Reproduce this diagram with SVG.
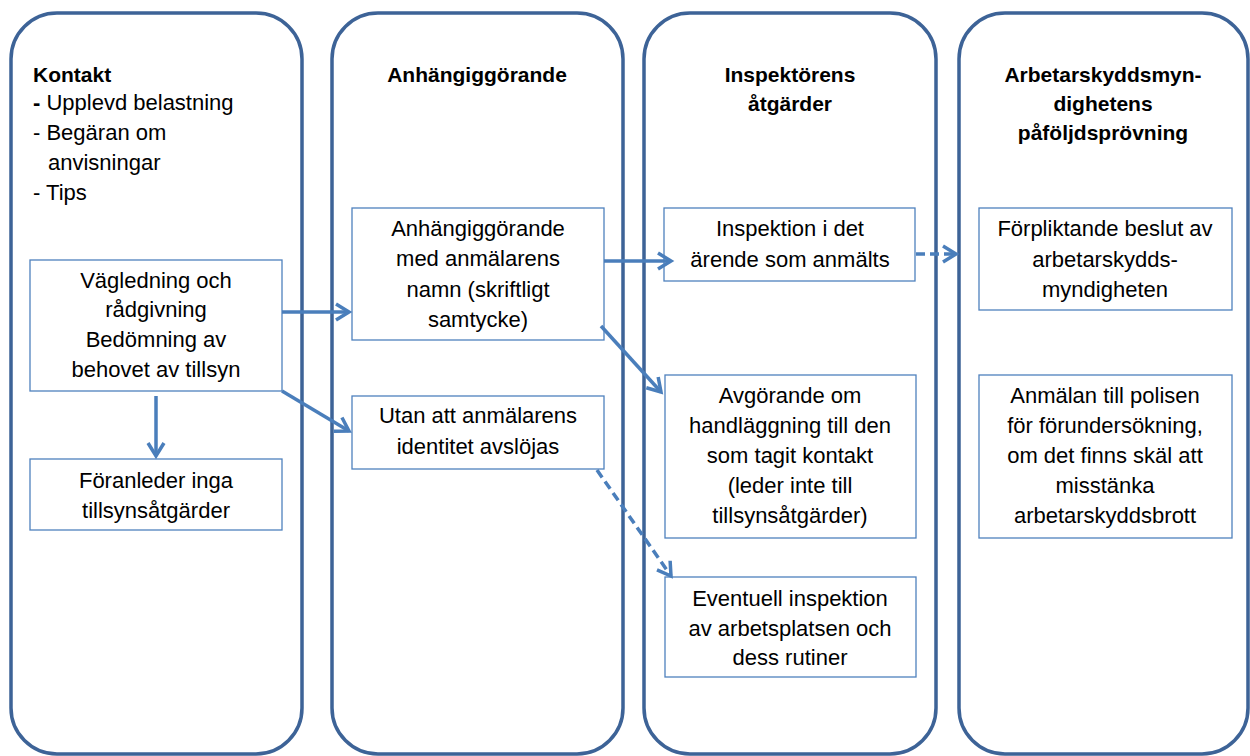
<svg xmlns="http://www.w3.org/2000/svg" width="1250" height="756" viewBox="0 0 1250 756">
<defs>
<style>
.col{fill:#fff;stroke:#3d6397;stroke-width:3.5}
.box{fill:#fff;stroke:#4f81bd;stroke-width:1.3}
text{font-family:"Liberation Sans",Arial,sans-serif;font-size:22px;fill:#000}
.c{text-anchor:middle}
.h{font-weight:bold;font-size:21px}
.arr{stroke:#4a7ebb;stroke-width:3.5;fill:none;marker-end:url(#ah)}
.dash{stroke-dasharray:9 5}
</style>
<marker id="ah" markerUnits="userSpaceOnUse" markerWidth="30" markerHeight="30" refX="0" refY="0" viewBox="-20 -15 30 30" orient="auto" overflow="visible">
<path d="M-13,-8 L0,0 L-13,8" fill="none" stroke="#4a7ebb" stroke-width="3.5" stroke-linecap="butt" stroke-linejoin="miter"/>
</marker>
</defs>
<rect width="1250" height="756" fill="#fff"/>

<g id="col1">
<rect class="col" x="11" y="13" width="291" height="741" rx="46" ry="46"/>
<text class="h" x="33" y="82">Kontakt</text>
<text x="33" y="110"><tspan font-weight="bold">-</tspan> Upplevd belastning</text>
<text x="33" y="140">- Begäran om</text>
<text x="48" y="170">anvisningar</text>
<text x="33" y="200">- Tips</text>
</g>
<g id="col2">
<rect class="col" x="332" y="13" width="291" height="741" rx="46" ry="46"/>
<text class="h c" x="477" y="82">Anhängiggörande</text>
</g>
<g id="col3">
<rect class="col" x="644" y="13" width="292" height="741" rx="46" ry="46"/>
<text class="h c" x="790" y="82">Inspektörens</text>
<text class="h c" x="790" y="111">åtgärder</text>
</g>
<g id="col4">
<rect class="col" x="959" y="13" width="289" height="741" rx="46" ry="46"/>
<text class="h c" x="1103" y="82">Arbetarskyddsmyn-</text>
<text class="h c" x="1103" y="111">dighetens</text>
<text class="h c" x="1103" y="140">påföljdsprövning</text>
</g>

<g id="boxA">
<rect class="box" x="30" y="260" width="252" height="131"/>
<text class="c" x="156" y="288">Vägledning och</text>
<text class="c" x="156" y="317">rådgivning</text>
<text class="c" x="156" y="347">Bedömning av</text>
<text class="c" x="156" y="377">behovet av tillsyn</text>
</g>
<g id="boxB">
<rect class="box" x="30" y="459" width="252" height="71"/>
<text class="c" x="156" y="488">Föranleder inga</text>
<text class="c" x="156" y="518">tillsynsåtgärder</text>
</g>
<g id="boxC">
<rect class="box" x="352" y="208" width="252" height="132"/>
<text class="c" x="478" y="236">Anhängiggörande</text>
<text class="c" x="478" y="266">med anmälarens</text>
<text class="c" x="478" y="297">namn (skriftligt</text>
<text class="c" x="478" y="327">samtycke)</text>
</g>
<g id="boxD">
<rect class="box" x="352" y="396" width="252" height="73"/>
<text class="c" x="478" y="423">Utan att anmälarens</text>
<text class="c" x="478" y="454">identitet avslöjas</text>
</g>
<g id="boxE">
<rect class="box" x="664" y="208" width="251" height="73"/>
<text class="c" x="790" y="236">Inspektion i det</text>
<text class="c" x="790" y="267">ärende som anmälts</text>
</g>
<g id="boxF">
<rect class="box" x="665" y="375" width="251" height="163"/>
<text class="c" x="790" y="403">Avgörande om</text>
<text class="c" x="790" y="433">handläggning till den</text>
<text class="c" x="790" y="463">som tagit kontakt</text>
<text class="c" x="790" y="493">(leder inte till</text>
<text class="c" x="790" y="523">tillsynsåtgärder)</text>
</g>
<g id="boxG">
<rect class="box" x="665" y="577" width="251" height="100"/>
<text class="c" x="790" y="606">Eventuell inspektion</text>
<text class="c" x="790" y="636">av arbetsplatsen och</text>
<text class="c" x="790" y="665">dess rutiner</text>
</g>
<g id="boxH">
<rect class="box" x="979" y="208" width="253" height="102"/>
<text class="c" x="1105" y="236">Förpliktande beslut av</text>
<text class="c" x="1105" y="267">arbetarskydds-</text>
<text class="c" x="1105" y="297">myndigheten</text>
</g>
<g id="boxI">
<rect class="box" x="979" y="375" width="253" height="163"/>
<text class="c" x="1105" y="403">Anmälan till polisen</text>
<text class="c" x="1105" y="433">för förundersökning,</text>
<text class="c" x="1105" y="463">om det finns skäl att</text>
<text class="c" x="1105" y="493">misstänka</text>
<text class="c" x="1105" y="523">arbetarskyddsbrott</text>
</g>

<g id="connectors">
<line class="arr" x1="282" y1="312" x2="349" y2="312"/>
<line class="arr" x1="282" y1="391" x2="349" y2="431"/>
<line class="arr" x1="156" y1="396" x2="156" y2="456"/>
<line class="arr" x1="604" y1="261" x2="671" y2="261"/>
<line class="arr" x1="601" y1="326" x2="661" y2="392"/>
<line class="arr dash" x1="916" y1="254" x2="956" y2="254"/>
<line class="arr dash" x1="597" y1="470" x2="671" y2="576"/>
</g>
</svg>
